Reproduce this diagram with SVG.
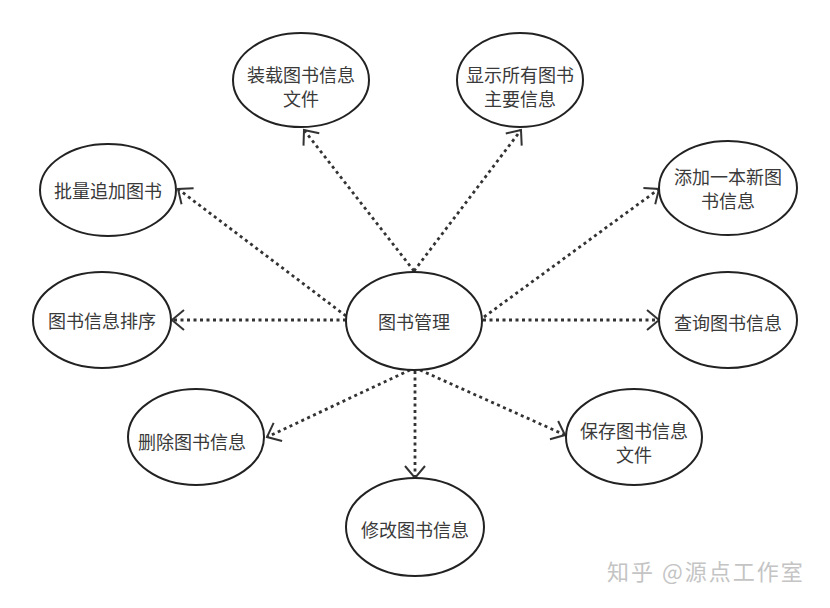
<svg xmlns="http://www.w3.org/2000/svg" width="830" height="608" viewBox="0 0 830 608">
<style>
.n ellipse{fill:#fff;stroke:#222;stroke-width:2}
.n text{font-family:"Noto Sans CJK SC","Noto Sans",sans-serif;font-size:18px;fill:#3a3a3a;text-anchor:middle;dominant-baseline:central}
.c line{stroke:#333;stroke-width:2.8;stroke-dasharray:3 3.5;marker-end:url(#arr)}
.wm{font-family:"Noto Sans CJK SC","Noto Sans",sans-serif;font-size:22px;fill:#c4c4c4;letter-spacing:2px}
</style>
<defs>
<marker id="arr" markerUnits="userSpaceOnUse" viewBox="-14 -12 16 24" markerWidth="16" markerHeight="24" refX="0" refY="0" orient="auto">
<path d="M-12,-10 L0,0 L-12,10" fill="none" stroke="#333" stroke-width="2"/>
</marker>
</defs>
<rect width="830" height="608" fill="#fff"/>
<g class="c">
<line x1="414" y1="271" x2="304" y2="130"/>
<line x1="414" y1="271" x2="521" y2="130"/>
<line x1="346" y1="316" x2="178" y2="189"/>
<line x1="346" y1="320" x2="172" y2="320"/>
<line x1="484" y1="317" x2="659" y2="189"/>
<line x1="483" y1="320" x2="659" y2="320"/>
<line x1="410" y1="370" x2="267" y2="437"/>
<line x1="415" y1="371" x2="415" y2="478"/>
<line x1="420" y1="370" x2="565" y2="435"/>
</g>
<g id="center" class="n"><ellipse cx="414" cy="321" rx="68" ry="49"/><text x="414" y="321">图书管理</text></g>
<g id="load" class="n"><ellipse cx="301" cy="80" rx="68" ry="47"/><text x="301" y="74">装载图书信息</text><text x="301" y="98">文件</text></g>
<g id="show" class="n"><ellipse cx="520" cy="80" rx="63" ry="47"/><text x="520" y="74">显示所有图书</text><text x="520" y="98">主要信息</text></g>
<g id="batch" class="n"><ellipse cx="108" cy="190" rx="68" ry="46"/><text x="108" y="190">批量追加图书</text></g>
<g id="add" class="n"><ellipse cx="728" cy="188" rx="69" ry="47"/><text x="728" y="176">添加一本新图</text><text x="728" y="200">书信息</text></g>
<g id="sort" class="n"><ellipse cx="102" cy="320" rx="69" ry="48"/><text x="102" y="320">图书信息排序</text></g>
<g id="query" class="n"><ellipse cx="728" cy="320" rx="69" ry="48"/><text x="728" y="322">查询图书信息</text></g>
<g id="delete" class="n"><ellipse cx="196" cy="437" rx="68" ry="48"/><text x="192" y="441">删除图书信息</text></g>
<g id="save" class="n"><ellipse cx="634" cy="437" rx="68" ry="48"/><text x="634" y="430">保存图书信息</text><text x="634" y="454">文件</text></g>
<g id="modify" class="n"><ellipse cx="415" cy="527" rx="69" ry="49"/><text x="415" y="529">修改图书信息</text></g>
<text class="wm" x="607" y="580">知乎 @源点工作室</text>
</svg>
